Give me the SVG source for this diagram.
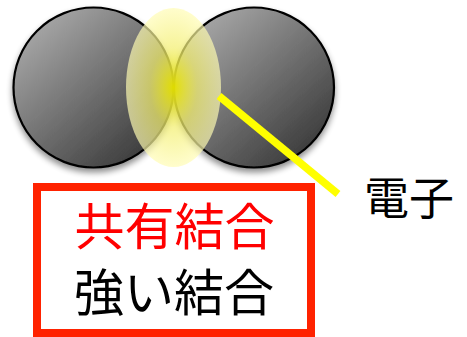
<svg xmlns="http://www.w3.org/2000/svg" width="467" height="337" viewBox="0 0 467 337">
  <style>
    .atom { stroke: #000; stroke-width: 2.2; fill: url(#atomFill); filter: url(#drop); }
    .jp { font-family: "Noto Sans CJK JP", "Noto Sans CJK SC", sans-serif; text-anchor: middle; }
  </style>
  <defs>
    <linearGradient id="atomFill" x1="0.15" y1="0.1" x2="0.85" y2="0.9">
      <stop offset="0" stop-color="#a6a6a6"/>
      <stop offset="1" stop-color="#3c3c3c"/>
    </linearGradient>
    <radialGradient id="cloud" cx="0.5" cy="0.5" r="0.5">
      <stop offset="0" stop-color="#e6e200" stop-opacity="0.97"/>
      <stop offset="0.5" stop-color="#f3ef70" stop-opacity="0.72"/>
      <stop offset="1" stop-color="#fffcb4" stop-opacity="0.68"/>
    </radialGradient>
    <filter id="drop" x="-20%" y="-20%" width="140%" height="150%">
      <feGaussianBlur in="SourceAlpha" stdDeviation="3"/>
      <feOffset dx="0" dy="4" result="b"/>
      <feComponentTransfer><feFuncA type="linear" slope="0.45"/></feComponentTransfer>
      <feMerge><feMergeNode/><feMergeNode in="SourceGraphic"/></feMerge>
    </filter>
  </defs>

  <!-- two atoms -->
  <g id="atom-left"><circle class="atom" cx="93.5" cy="87.5" r="80"/></g>
  <g id="atom-right"><circle class="atom" cx="254" cy="87.5" r="80"/></g>

  <!-- shared electron cloud -->
  <g id="electron-cloud"><ellipse cx="173.5" cy="87.5" rx="47.5" ry="79.5" fill="url(#cloud)"/></g>

  <!-- pointer to the electron label -->
  <g id="connectors">
    <line x1="219" y1="96" x2="338" y2="194" stroke="#ffff00" stroke-width="7.5"/>
  </g>

  <g id="label-electron">
    <text class="jp" x="409" y="215" font-size="45" fill="#000">電子</text>
  </g>

  <!-- bond description box -->
  <g id="bond-box">
    <rect x="37" y="187" width="274" height="146" fill="#fff" stroke="#ff2200" stroke-width="8"/>
    <text class="jp" x="174.5" y="245" font-size="50" fill="#ff0000">共有結合</text>
    <text class="jp" x="174" y="311" font-size="50" fill="#000">強い結合</text>
  </g>
</svg>
